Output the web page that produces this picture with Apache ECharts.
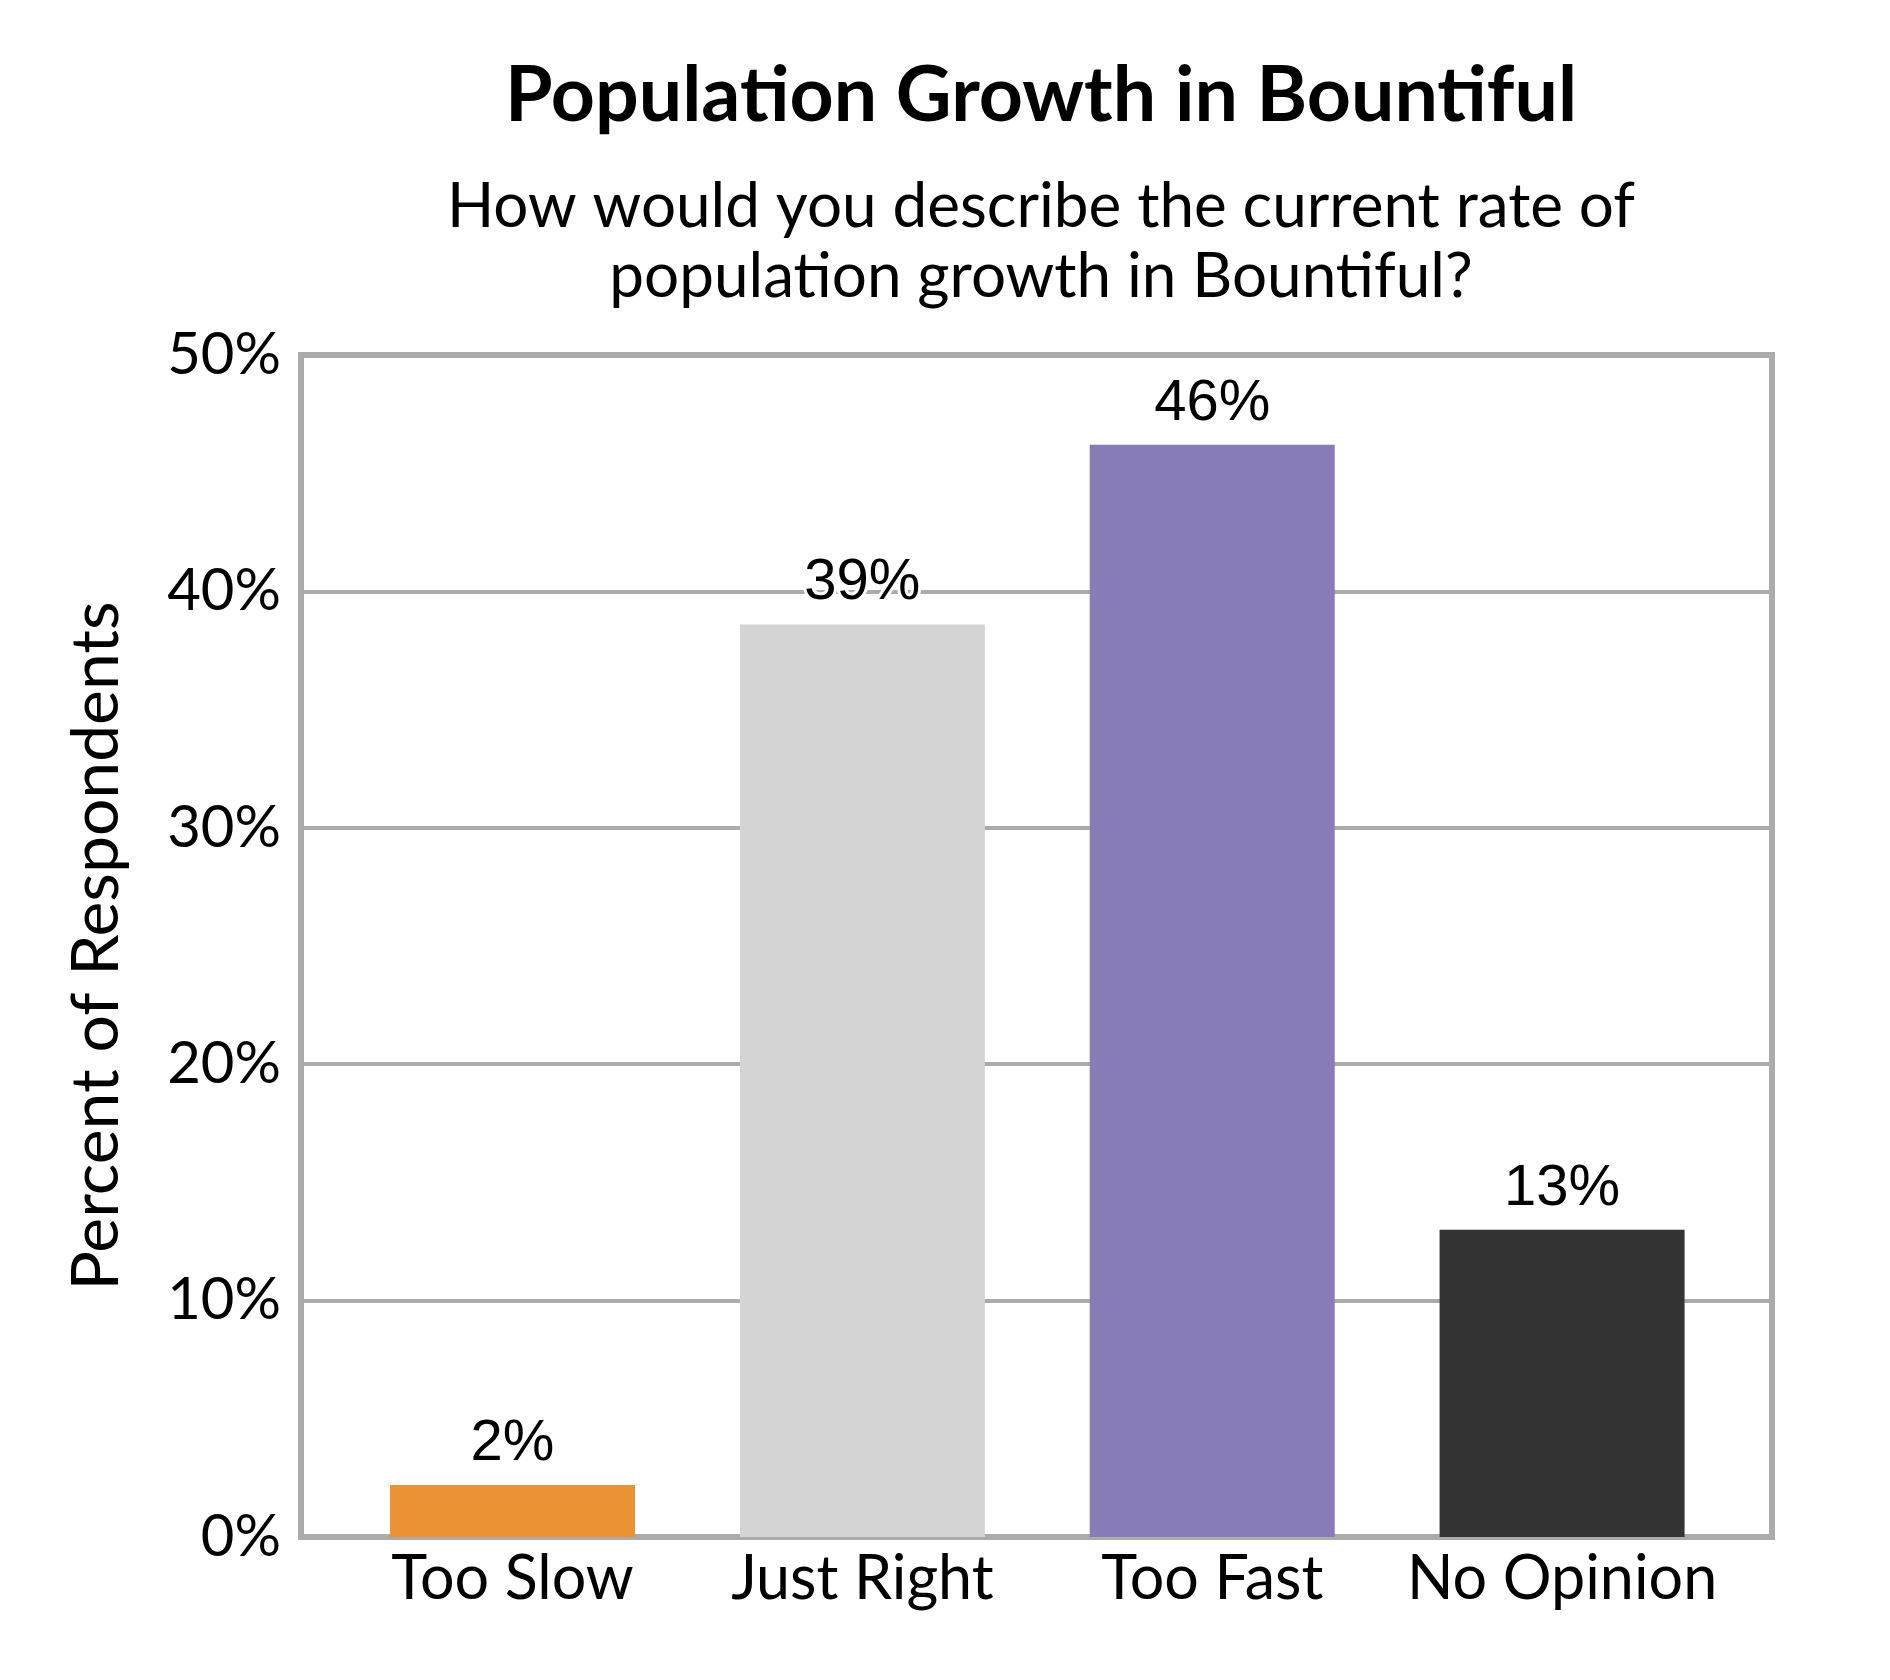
<!DOCTYPE html>
<html>
<head>
<meta charset="utf-8">
<title>Population Growth in Bountiful</title>
<script src="https://cdn.jsdelivr.net/npm/echarts@6/dist/echarts.min.js"></script>
<style>
  html, body { margin: 0; padding: 0; background: #fff; }
  #chart { width: 1890px; height: 1680px; }
</style>
</head>
<body>
<div id="chart"></div>
<script>
// answers and share of respondents (percent)
var categories = ['Too Slow', 'Just Right', 'Too Fast', 'No Opinion'];
var percents = [2.2, 38.6, 46.2, 13.0];
var barColors = ['#EB9234', '#D4D4D4', '#897BB5', '#333333'];

var titleText = 'Population Growth in Bountiful';
var questionText = 'How would you describe the current rate of\npopulation growth in Bountiful?';
var yName = 'Percent of Respondents';

var uiFont = 'Lato';
var gridColor = '#ABABAB';

var chart = echarts.init(document.getElementById('chart'));

var option = {
    backgroundColor: '#fff',
    animation: false,
    title: [{
        text: titleText,
        left: 1036,
        top: 53,
        textAlign: 'center',
        textStyle: { fontFamily: uiFont, fontWeight: 'bold', fontSize: 77, color: '#000' }
    }, {
        text: questionText,
        left: 1036,
        top: 167,
        textAlign: 'center',
        textStyle: { fontFamily: uiFont, fontWeight: 'normal', fontSize: 62, lineHeight: 70, color: '#000' }
    }],
    grid: [
        // frame + gridlines
        { left: 301, right: 118, top: 355, bottom: 143, show: true, borderColor: gridColor, borderWidth: 6 },
        // bars sit a bit inside the frame
        { left: 337.6, right: 153, top: 355, bottom: 143 }
    ],
    xAxis: [{
        gridIndex: 0,
        type: 'category',
        data: categories,
        axisLine: { show: false },
        axisTick: { show: false },
        axisLabel: { show: false }
    }, {
        gridIndex: 1,
        type: 'category',
        data: categories,
        axisLine: { show: false },
        axisTick: { show: false },
        axisLabel: { interval: 0, margin: 12, fontFamily: uiFont, fontSize: 61, color: '#000' }
    }],
    yAxis: [{
        gridIndex: 0,
        type: 'value',
        min: 0,
        max: 50,
        interval: 10,
        name: yName,
        nameLocation: 'middle',
        nameGap: 171,
        nameTextStyle: { fontFamily: uiFont, fontSize: 66, color: '#000' },
        axisLine: { show: false },
        axisTick: { show: false },
        axisLabel: { margin: 20, formatter: '{value}%', fontFamily: uiFont, fontSize: 58, color: '#000' },
        splitLine: { lineStyle: { color: gridColor, width: 4 } }
    }, {
        gridIndex: 1,
        type: 'value',
        min: 0,
        max: 50,
        show: false,
        splitLine: { show: false }
    }],
    series: [{
        type: 'bar',
        xAxisIndex: 1,
        yAxisIndex: 1,
        barWidth: 245,
        data: percents.map(function (v, i) {
            return { value: v, itemStyle: { color: barColors[i] } };
        }),
        label: {
            show: true,
            position: 'top',
            distance: 12,
            formatter: function (p) { return Math.round(p.value) + '%'; },
            fontFamily: 'Liberation Sans',
            fontSize: 58,
            color: '#000',
            textBorderColor: '#fff',
            textBorderWidth: 6
        }
    }]
};

chart.setOption(option);
</script>
</body>
</html>
